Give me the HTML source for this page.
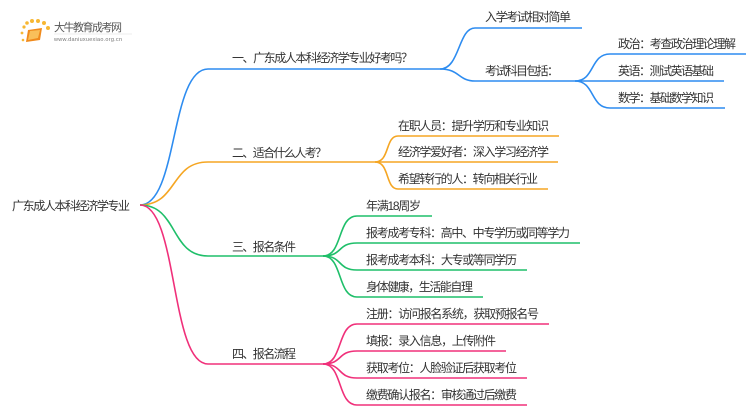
<!DOCTYPE html>
<html><head><meta charset="utf-8"><style>
html,body{margin:0;padding:0;background:#fff;width:750px;height:410px;overflow:hidden}
text{font-family:"Liberation Sans","Noto Sans CJK SC",sans-serif;font-size:12px;fill:#333}
</style></head><body>
<svg width="750" height="410" viewBox="0 0 750 410" xmlns="http://www.w3.org/2000/svg">
<g>
<circle cx="24" cy="27" r="1.6" fill="#f7b733"/><circle cx="27" cy="23" r="1.8" fill="#f7b733"/><circle cx="32" cy="21" r="2" fill="#f7b733"/><circle cx="38" cy="21" r="2" fill="#f7b733"/><circle cx="44" cy="23" r="2" fill="#f7b733"/><circle cx="48" cy="28" r="2" fill="#f7b733"/><circle cx="22" cy="33" r="1.4" fill="#f7b733"/><circle cx="23" cy="40" r="1.3" fill="#f7b733"/>
<path d="M28 30 L42 28 L40 40 L26 42 Z" fill="#f08a1c"/>
<path d="M30 31 L40 30 L38 38 L28 40 Z" fill="#f9c05a"/>
<text x="54" y="31" style="font-size:11px;fill:#555" textLength="68">大牛教育成考网</text>
<line x1="54" y1="34" x2="132" y2="34" stroke="#ddd" stroke-width="0.6"/>
<text x="54" y="41" style="font-size:5.5px;fill:#777" textLength="68">www.daniuxuexiao.org.cn</text>
</g>
<g fill="none" stroke-width="1.6">
<g stroke="#2d8cf0">
<path d="M140 205 C178 205 170 69 208 69 L440 69"/>
<path d="M440 69 C460 69 458 28 475 28 L582 28"/>
<path d="M440 69 C460 69 458 81 475 81 L575 81"/>
<path d="M575 81 C595 81 590 54 610 54 L746 54"/>
<path d="M575 81 C595 81 590 81 610 81 L724 81"/>
<path d="M575 81 C595 81 590 108 610 108 L725 108"/>
</g>
<g stroke="#f5a623">
<path d="M140 205 C178 205 170 162 208 162 L375 162"/>
<path d="M375 162 C390 162 385 136 398 136 L559 136"/>
<path d="M375 162 L558 162"/>
<path d="M375 162 C390 162 385 189 398 189 L548 189"/>
</g>
<g stroke="#1fbf6a">
<path d="M140 205 C178 205 170 256 208 256 L323 256"/>
<path d="M323 256 C343 256 337 216 357 216 L432 216"/>
<path d="M323 256 C343 256 337 243 357 243 L580 243"/>
<path d="M323 256 C343 256 337 270 357 270 L527 270"/>
<path d="M323 256 C343 256 337 297 357 297 L483 297"/>
</g>
<g stroke="#f0307a">
<path d="M140 205 C178 205 170 364 208 364 L323 364"/>
<path d="M323 364 C343 364 337 324 357 324 L549 324"/>
<path d="M323 364 C343 364 337 351 357 351 L506 351"/>
<path d="M323 364 C343 364 337 378 357 378 L527 378"/>
<path d="M323 364 C343 364 337 405 357 405 L527 405"/>
</g>
</g>
<text x="12" y="210" textLength="118">广东成人本科经济学专业</text>
<text x="232" y="62" textLength="181">一、广东成人本科经济学专业好考吗？</text>
<text x="232" y="157" textLength="95">二、适合什么人考？</text>
<text x="232" y="251" textLength="64">三、报名条件</text>
<text x="232" y="358" textLength="64">四、报名流程</text>
<text x="485" y="21" textLength="86">入学考试相对简单</text>
<text x="485" y="75" textLength="74">考试科目包括：</text>
<text x="618" y="48" textLength="118">政治：考查政治理论理解</text>
<text x="618" y="75" textLength="96">英语：测试英语基础</text>
<text x="618" y="102" textLength="96">数学：基础数学知识</text>
<text x="398" y="130" textLength="151">在职人员：提升学历和专业知识</text>
<text x="398" y="156" textLength="151">经济学爱好者：深入学习经济学</text>
<text x="398" y="183" textLength="140">希望转行的人：转向相关行业</text>
<text x="366" y="210" textLength="55">年满18周岁</text>
<text x="366" y="237" textLength="204">报考成考专科：高中、中专学历或同等学力</text>
<text x="366" y="264" textLength="151">报考成考本科：大专或等同学历</text>
<text x="366" y="291" textLength="107">身体健康，生活能自理</text>
<text x="366" y="318" textLength="173">注册：访问报名系统，获取预报名号</text>
<text x="366" y="345" textLength="130">填报：录入信息，上传附件</text>
<text x="366" y="372" textLength="151">获取考位：人脸验证后获取考位</text>
<text x="366" y="399" textLength="151">缴费确认报名：审核通过后缴费</text>
</svg>
</body></html>
